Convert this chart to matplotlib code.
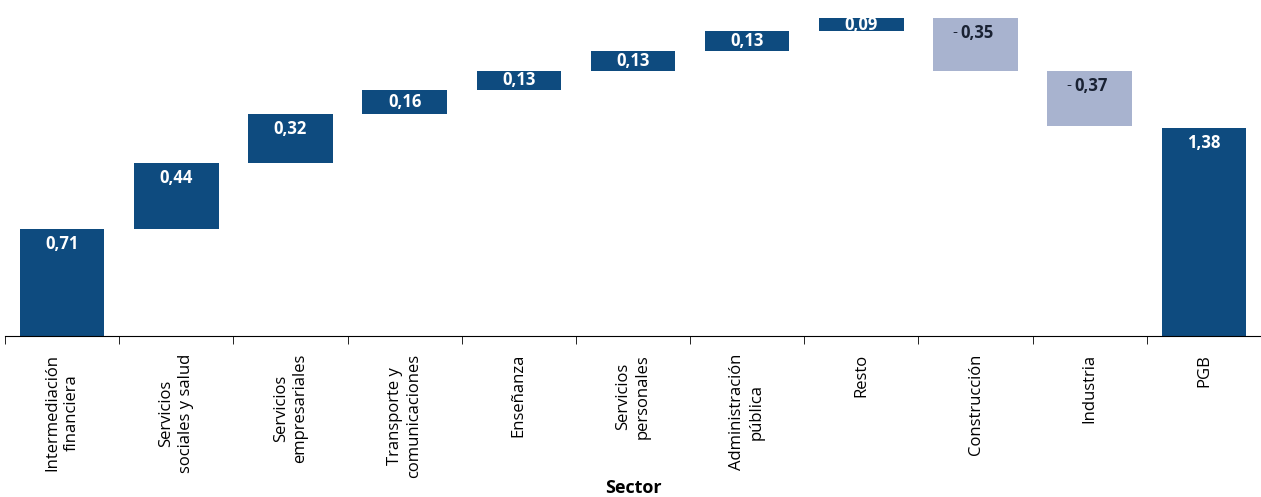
import matplotlib
matplotlib.use("Agg")
import matplotlib.pyplot as plt
import numpy as np

plt.rcParams['font.family'] = ['Open Sans', 'DejaVu Sans']

sectores = ["Intermediación\nfinanciera", "Servicios\nsociales y salud", "Servicios\nempresariales",
            "Transporte y\ncomunicaciones", "Enseñanza", "Servicios\npersonales",
            "Administración\npública", "Resto", "Construcción", "Industria", "PGB"]
aportes = [0.71, 0.44, 0.32, 0.16, 0.13, 0.13, 0.13, 0.09, -0.35, -0.37]
total = 1.38

azul = "#0E4B7F"
gris = "#A8B3CF"

fig = plt.figure(figsize=(12.61, 4.97), dpi=100)
ax = fig.add_axes([0.004, 0.324, 0.996, 0.646])

x = np.arange(len(sectores))
acum = 0.0
for i, v in enumerate(aportes):
    base = acum if v >= 0 else acum + v
    color = azul if v >= 0 else gris
    ax.bar(i, abs(v), bottom=base, width=0.74, color=color)
    top = base + abs(v)
    txt = f"{abs(v):.2f}".replace(".", ",")
    if v >= 0:
        yl = top - 0.1 if abs(v) > 0.2 else base + abs(v) / 2
        ax.text(i, yl, txt, ha="center", va="center", color="white",
                fontsize=12, fontweight="bold")
    else:
        ax.annotate("- ", (i, top - 0.1), xytext=(-10, 0), textcoords="offset points",
                    ha="right", va="center", color="#1a2233", fontsize=11)
        ax.annotate(txt, (i, top - 0.1), xytext=(-11, 0), textcoords="offset points",
                    ha="left", va="center", color="#1a2233", fontsize=12, fontweight="bold")
    acum += v

n = len(aportes)
ax.bar(n, total, width=0.74, color=azul)
ax.text(n, total - 0.1, f"{total:.2f}".replace(".", ","), ha="center", va="center",
        color="white", fontsize=12, fontweight="bold")

ax.set_xlim(-0.5, len(sectores) - 0.5)
ax.set_ylim(0, 2.13)
ax.set_yticks([])
for s in ["left", "top", "right"]:
    ax.spines[s].set_visible(False)
ax.spines["bottom"].set_color("black")

ax.set_xticks(x)
ax.set_xticklabels(sectores, rotation=90, fontsize=12, va="top", ha="center",
                   multialignment="center", linespacing=1.3)
ax.tick_params(axis="x", which="major", length=0, pad=13)
ax.set_xticks(np.arange(-0.5, len(sectores), 1), minor=True)
ax.tick_params(axis="x", which="minor", length=6, direction="out")
ax.set_xlabel("Sector", fontsize=13, fontweight="bold", va="center")
ax.xaxis.set_label_coords(0.5, -0.473)

fig.savefig("out.png", dpi=100)
